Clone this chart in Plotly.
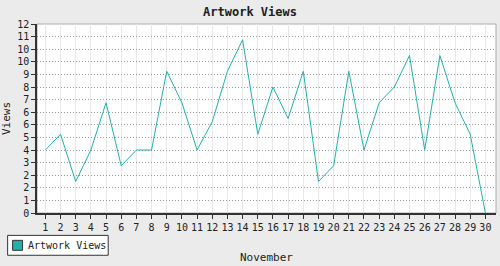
import plotly.graph_objects as go

days = list(range(1, 31))
views = [4, 5, 2, 4, 7, 3, 4, 4, 9, 7, 4, 5.8, 9, 11, 5, 8, 6, 9, 2, 3, 9, 4, 7, 8, 10, 4, 10, 7, 5, 0]
y_ticks = [round(i * 0.8, 1) for i in range(16)]
y_labels = [str(int(v + 0.5)) for v in y_ticks]
series_name = "Artwork Views"

teal = "#20b2aa"
mono = "DejaVu Sans Mono"

W, H = 500, 266
ML, MR, MT, MB = 35, 4, 24, 52
PW, PH = W - ML - MR, H - MT - MB


def px(x):
    return (x - ML) / PW


def py(y):
    return (H - MB - y) / PH


fig = go.Figure()
fig.add_trace(go.Scatter(x=days, y=views, mode="lines", line=dict(color=teal, width=1),
                         showlegend=False, name=series_name))

fig.update_layout(
    width=W, height=H,
    margin=dict(l=ML, r=MR, t=MT, b=MB, pad=0),
    paper_bgcolor="#ebebeb", plot_bgcolor="#ffffff",
    font=dict(family=mono, size=10, color="#222222"),
    showlegend=False,
    title=dict(text="<b>Artwork Views</b>", x=0.5, xanchor="center", y=0.955, yanchor="middle",
               font=dict(family=mono, size=12, color="#222222")),
    shapes=[
        dict(type="rect", xref="paper", yref="paper", x0=0, x1=1, y0=0, y1=1,
             line=dict(color="#aaaaaa", width=1), layer="below"),
        # legend box
        dict(type="rect", xref="paper", yref="paper", x0=px(5.5), x1=px(106.5),
             y0=py(256.5), y1=py(236.5), fillcolor="#ffffff",
             line=dict(color="#333333", width=1), layer="above"),
        # legend swatch
        dict(type="rect", xref="paper", yref="paper", x0=px(10.5), x1=px(20.5),
             y0=py(251.5), y1=py(241.5), fillcolor=teal,
             line=dict(color="#333333", width=1), layer="above"),
    ],
    annotations=[
        dict(text=series_name, xref="paper", yref="paper", x=px(24), y=py(246.5),
             xanchor="left", yanchor="middle", showarrow=False,
             font=dict(family=mono, size=10, color="#222222")),
    ],
)
fig.update_xaxes(range=[0.45, 30.7], tickvals=days, ticks="outside", ticklen=4, tickcolor="#333333",
                 showline=True, linecolor="#333333", linewidth=1.5,
                 showgrid=True, gridcolor="#e8e8e8", gridwidth=1, zeroline=False,
                 title=dict(text="November", standoff=22, font=dict(family=mono, size=11)),
                 tickfont=dict(family=mono, size=10))
fig.update_yaxes(range=[0, 12], tickvals=y_ticks, ticktext=y_labels, ticks="outside", ticklen=4,
                 tickcolor="#333333", showline=True, linecolor="#333333", linewidth=1.5,
                 showgrid=True, gridcolor="#999999", griddash="1px,2px", gridwidth=1, zeroline=False,
                 title=dict(text="Views", standoff=6, font=dict(family=mono, size=11)),
                 tickfont=dict(family=mono, size=10))

fig.write_html("out.html")
